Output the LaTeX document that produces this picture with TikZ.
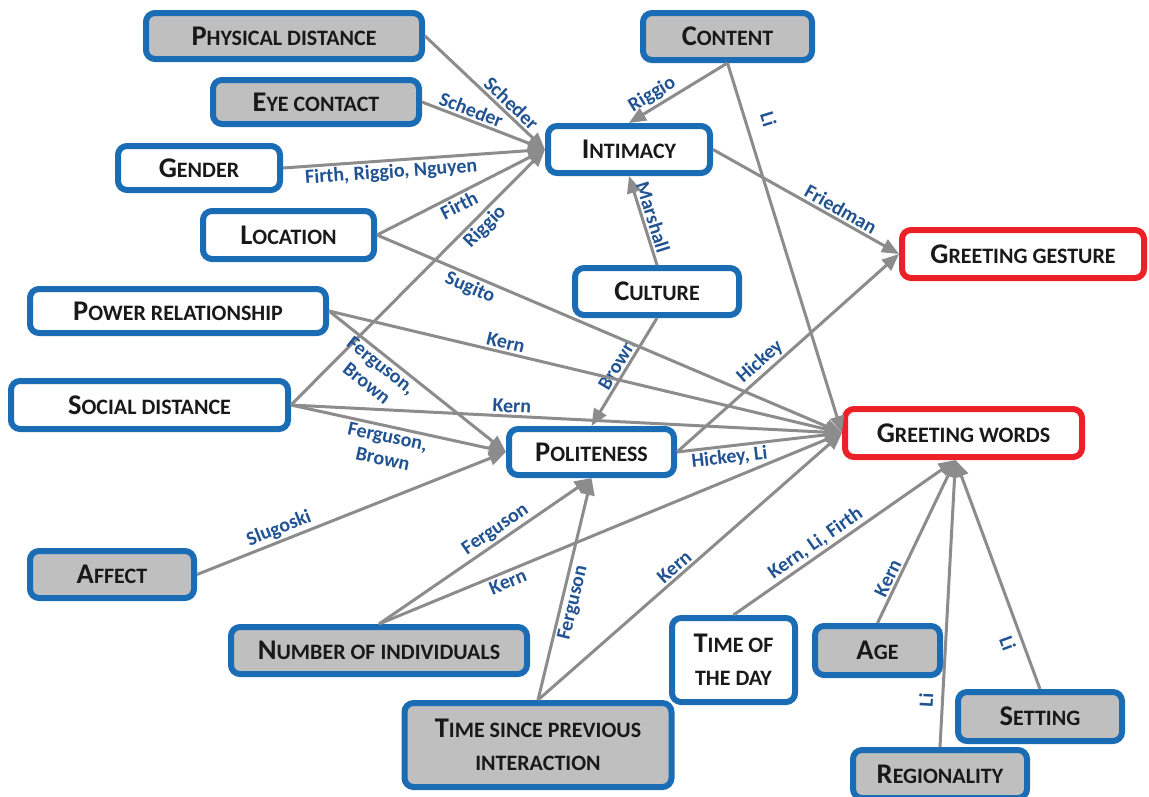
\documentclass[tikz,border=0pt]{standalone}
\usepackage{fontspec}
\setmainfont{Carlito}
\usetikzlibrary{arrows.meta, calc}
\definecolor{nblue}{RGB}{26,108,181}
\definecolor{nred}{RGB}{236,32,39}
\definecolor{ngray}{RGB}{191,191,191}
\definecolor{egray}{RGB}{140,140,140}
\definecolor{lblue}{RGB}{33,82,145}
% lower-case part of the small caps
\newcommand\sm[1]{{\fontsize{22}{33}\selectfont #1}}
\tikzset{
  fac/.style ={rectangle, rounded corners=9pt, draw=nblue, line width=6pt, fill=white, align=center, inner sep=0pt, font=\fontsize{28.5}{33}\selectfont\bfseries, text=black!90},
  grey/.style={fac, fill=ngray},
  goal/.style={fac, draw=nred},
  dims/.style 2 args={minimum width=#1pt, minimum height=#2pt},
  fl/.style  ={draw=egray, line width=3pt, -{Triangle[length=17pt, width=14pt]}},
  lbl/.style ={font=\fontsize{20}{23}\selectfont\bfseries, text=lblue, sloped, inner sep=2pt, align=center},
}

\begin{document}
\begin{tikzpicture}[x=1pt, y=-1pt]
  \useasboundingbox (0,0) rectangle (1149,796);
  % factors
  \node[grey, dims={276}{46}] (phys)    at (284,36)    {P\sm{HYSICAL DISTANCE}};
  \node[grey, dims={206}{44}] (eye)     at (316,102)   {E\sm{YE CONTACT}};
  \node[fac,  dims={162}{44}] (gender)  at (199,168)   {G\sm{ENDER}};
  \node[fac,  dims={171}{48}] (loc)     at (288.5,235) {L\sm{OCATION}};
  \node[fac,  dims={296}{44}] (power)   at (178,311)   {P\sm{OWER RELATIONSHIP}};
  \node[fac,  dims={277}{48}] (social)  at (149.5,405) {S\sm{OCIAL DISTANCE}};
  \node[grey, dims={164}{47}] (affect)  at (112,574.5) {A\sm{FFECT}};
  \node[grey, dims={296}{47}] (number)  at (379,650.5) {N\sm{UMBER OF INDIVIDUALS}};
  \node[grey, dims={267}{84}] (since)   at (538,745)   {T\sm{IME SINCE PREVIOUS}\\\sm{INTERACTION}};
  \node[grey, dims={169}{47}] (content) at (727.5,36.5) {C\sm{ONTENT}};
  \node[fac,  dims={162}{47}] (intimacy) at (629,149.5) {I\sm{NTIMACY}};
  \node[fac,  dims={164}{47}] (culture) at (657,291.5) {C\sm{ULTURE}};
  \node[fac,  dims={165}{46}] (polite)  at (591.5,452) {P\sm{OLITENESS}};
  \node[fac,  dims={123}{84}] (timeday) at (733.5,660) {T\sm{IME OF}\\\sm{THE DAY}};
  \node[grey, dims={125}{49}] (age)     at (877.5,650.5) {A\sm{GE}};
  \node[grey, dims={164}{49}] (setting) at (1040,716.5) {S\sm{ETTING}};
  \node[grey, dims={174}{48}] (region)  at (940,774)   {R\sm{EGIONALITY}};
  % outcomes
  \node[goal, dims={242}{48}] (gesture) at (1023,254)  {G\sm{REETING GESTURE}};
  \node[goal, dims={237}{48}] (words)   at (963.5,433) {G\sm{REETING WORDS}};
  \coordinate (wb) at ($(words.south)+(-8,0)$);

  % into intimacy
  \draw[fl] (phys.east) -- node[lbl, pos=.66, above]{Scheder} (intimacy.west);
  \draw[fl] (eye.east) -- node[lbl, pos=.37, above]{Scheder} (intimacy.west);
  \draw[fl] (gender.east) -- node[lbl, pos=.41, below]{Firth, Riggio, Nguyen} (intimacy.west);
  \draw[fl] (loc.east) -- node[lbl, pos=.46, below]{Firth} (intimacy.west);
  \draw[fl] (social.east) -- node[lbl, pos=.73, below]{Riggio} (intimacy.west);
  \draw[fl] (content.south) -- node[lbl, pos=.7, above]{Riggio} (intimacy.north);
  \draw[fl] (culture.north) -- node[lbl, pos=.5, above]{Marshall} (intimacy.south);
  % into greeting gesture
  \draw[fl] (intimacy.east) -- node[lbl, pos=.66, above]{Friedman} (gesture.west);
  \draw[fl] (polite.east) -- node[lbl, pos=.41, above]{Hickey} (gesture.west);
  % into politeness
  \draw[fl] (culture.south) -- node[lbl, pos=.48, above]{Brown} (polite.north);
  \draw[fl] (power.east) -- node[lbl, pos=.33, below]{Ferguson,\\Brown} (polite.west);
  \draw[fl] (social.east) -- node[lbl, pos=.46, below]{Ferguson,\\Brown} (polite.west);
  \draw[fl] (affect.east) -- node[lbl, pos=.28, above]{Slugoski} (polite.west);
  \draw[fl] (number.north) -- node[lbl, pos=.58, above]{Ferguson} (polite.south);
  \draw[fl] (since.north) -- node[lbl, pos=.45, below]{Ferguson} (polite.south);
  % into greeting words
  \draw[fl] (content.south) -- node[lbl, pos=.17, above=12pt]{Li} (words.west);
  \draw[fl] (loc.east) -- node[lbl, pos=.21, below]{Sugito} (words.west);
  \draw[fl] (power.east) -- node[lbl, pos=.34, above]{Kern} (words.west);
  \draw[fl] (social.east) -- node[lbl, pos=.4, above]{Kern} (words.west);
  \draw[fl] (polite.east) -- node[lbl, pos=.31, below]{Hickey, Li} (words.west);
  \draw[fl] (number.north) -- node[lbl, pos=.27, below]{Kern} (words.west);
  \draw[fl] (since.north) -- node[lbl, pos=.47, above]{Kern} (words.west);
  \draw[fl] (timeday.north) -- node[lbl, pos=.4, above]{Kern, Li, Firth} (wb);
  \draw[fl] (age.north) -- node[lbl, pos=.25, above]{Kern} (wb);
  \draw[fl] (region.north) -- node[lbl, pos=.16, above=6pt]{Li} (wb);
  \draw[fl] (setting.north) -- node[lbl, pos=.22, below=4pt]{Li} (wb);
\end{tikzpicture}
\end{document}
